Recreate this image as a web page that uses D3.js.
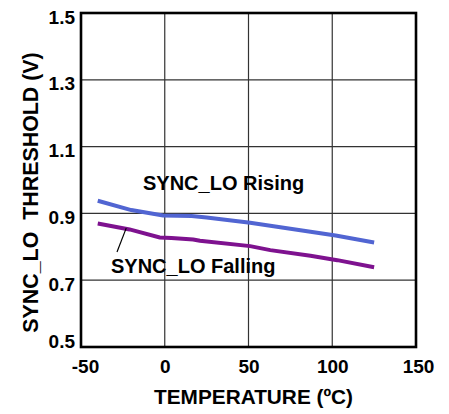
<!DOCTYPE html>
<html><head><meta charset="utf-8">
<script src="https://cdn.jsdelivr.net/npm/d3@7"></script>
<style>body{margin:0;background:#fff}svg{display:block}</style>
</head><body>
<script>
const xTicks = [-50, 0, 50, 100, 150];
const yTicks = [0.5, 0.7, 0.9, 1.1, 1.3, 1.5];
const risingT = [-40, -20, -1, 16, 25, 51, 67, 87, 102, 125];
const risingV = [0.938, 0.910, 0.894, 0.892, 0.888, 0.872, 0.860, 0.845, 0.834, 0.813];
const fallingT = [-40, -21, -3, 4, 17, 21, 51, 63, 87, 103, 125];
const fallingV = [0.870, 0.852, 0.828, 0.826, 0.822, 0.818, 0.802, 0.790, 0.773, 0.760, 0.739];
const xTitle = "TEMPERATURE (ºC)";
const yTitle = "SYNC_LO  THRESHOLD (V)";

const W = 449, H = 414;
const m = {left: 81, right: 33, top: 13, bottom: 67};
const svg = d3.select("body").append("svg").attr("width", W).attr("height", H);
const x = d3.scaleLinear().domain([-50, 150]).range([m.left, W - m.right]);
const y = d3.scaleLinear().domain([0.5, 1.5]).range([H - m.bottom, m.top]);
const font = "'Liberation Sans', Arial, sans-serif";

// grid
svg.append("g").selectAll("line.v").data(xTicks.slice(1, -1)).join("line")
  .attr("x1", d => x(d)).attr("x2", d => x(d)).attr("y1", y(0.5)).attr("y2", y(1.5))
  .attr("stroke", "#333").attr("stroke-width", 1.2);
svg.append("g").selectAll("line.h").data(yTicks.slice(1, -1)).join("line")
  .attr("y1", d => y(d)).attr("y2", d => y(d)).attr("x1", x(-50)).attr("x2", x(150))
  .attr("stroke", "#333").attr("stroke-width", 1.2);

// series
const line = d3.line().x(d => x(d[0])).y(d => y(d[1]));
svg.append("path").datum(risingT.map((t, i) => [t, risingV[i]]))
  .attr("d", line).attr("fill", "none").attr("stroke", "#5165d2").attr("stroke-width", 4);
svg.append("path").datum(fallingT.map((t, i) => [t, fallingV[i]]))
  .attr("d", line).attr("fill", "none").attr("stroke", "#7e128f").attr("stroke-width", 4);

// frame
svg.append("rect").attr("x", x(-50)).attr("y", y(1.5))
  .attr("width", x(150) - x(-50)).attr("height", y(0.5) - y(1.5))
  .attr("fill", "none").attr("stroke", "#000").attr("stroke-width", 2.6);

// axes
const xa = svg.append("g").attr("transform", `translate(0,${y(0.5)})`)
  .call(d3.axisBottom(x).tickValues(xTicks).tickSize(0).tickPadding(13).tickFormat(d => String(d)));
xa.select(".domain").remove();
xa.selectAll("text").attr("font-family", font).attr("font-size", 19).attr("font-weight", "bold")
  .attr("fill", "#000").attr("dx", d => d === -50 ? 4 : (d === 150 ? 2 : 0));

const ya = svg.append("g").attr("transform", `translate(${x(-50)},0)`)
  .call(d3.axisLeft(y).tickValues(yTicks).tickSize(0).tickPadding(6).tickFormat(d3.format(".1f")));
ya.select(".domain").remove();
ya.selectAll("text").attr("font-family", font).attr("font-size", 19).attr("font-weight", "bold")
  .attr("fill", "#000").attr("dy", d => d === 0.5 ? 0 : 10);

svg.append("text").attr("x", (x(-50) + x(150)) / 2 + 5).attr("y", 404)
  .attr("text-anchor", "middle").attr("font-family", font).attr("font-size", 20.8).attr("font-weight", "bold")
  .text(xTitle);
svg.append("text").attr("transform", `translate(37.5,192.5) rotate(-90)`)
  .attr("text-anchor", "middle").attr("font-family", font).attr("font-size", 21.4).attr("font-weight", "bold")
  .style("white-space", "pre")
  .text(yTitle);

// annotations
svg.append("text").attr("x", 143).attr("y", 190).attr("font-family", font).attr("font-size", 20)
  .attr("font-weight", "bold").text("SYNC_LO Rising");
svg.append("text").attr("x", 111).attr("y", 273).attr("font-family", font).attr("font-size", 20)
  .attr("font-weight", "bold").text("SYNC_LO Falling");
svg.append("line").attr("x1", 117).attr("y1", 252).attr("x2", x(-23)).attr("y2", y(0.856))
  .attr("stroke", "#000").attr("stroke-width", 1.2);
</script>
</body></html>
